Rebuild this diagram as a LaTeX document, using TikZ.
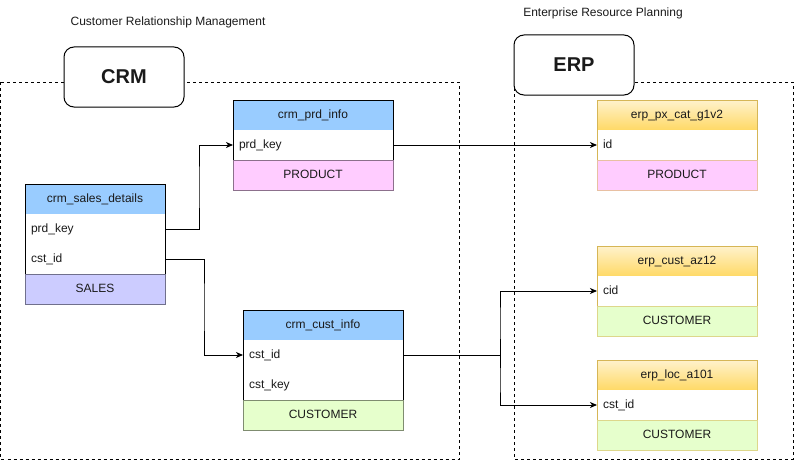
\documentclass[tikz,border=0pt]{standalone}
\usepackage{fontspec}
\setmainfont{Liberation Sans}
\usetikzlibrary{arrows.meta, positioning, calc}
\definecolor{crmblue}{HTML}{99CCFF}
\definecolor{salesfill}{HTML}{CCCCFF}
\definecolor{prodfill}{HTML}{FFCCFF}
\definecolor{custfill}{HTML}{E6FFCC}
\definecolor{erpline}{HTML}{D6B656}
\definecolor{erptop}{HTML}{FFF2CC}
\definecolor{erpbottom}{HTML}{FFD966}
\definecolor{ink}{HTML}{1A1A1A}

\begin{document}
\begin{tikzpicture}[x=1pt, y=-1pt, line width=1pt, text=ink,
    font=\fontsize{12}{14}\selectfont,
    cell/.style={rectangle, inner xsep=6pt, inner ysep=0pt, outer sep=0pt, text width=148pt,
      minimum height=30pt, text height=8.6pt, text depth=2.4pt},
    head/.style={cell, draw, align=center},
    crmhead/.style={head, fill=crmblue},
    erphead/.style={head, draw=erpline, top color=erptop, bottom color=erpbottom},
    field/.style={cell, align=left, fill=white},
    foot/.style={cell, align=center, fill=#1, draw=#1!55!black},
    erpfoot/.style={cell, align=center, fill=#1, draw=#1!45!erpline},
    narrow/.style={text width=128pt},
    group/.style={draw, rounded corners=10pt, fill=white, minimum width=120pt,
      minimum height=60pt, font=\fontsize{20}{24}\selectfont\bfseries},
    frame/.style={draw, dash pattern=on 3pt off 3pt},
    link/.style={-{Stealth[length=7pt, width=6pt, inset=2pt]}},
    elbow/.style={to path={(\tikztostart) -| ($(\tikztostart)!.5!(\tikztotarget)$)
      |- (\tikztotarget) \tikztonodes}}]
  \useasboundingbox (0,0) rectangle (795,460);

  % cadres
  \draw[frame] (0.5,82) rectangle (459,459);
  \draw[frame] (514,82) rectangle (793,459);
  \node (crm) at (124,77) [group] {CRM};
  \node (erp) at (574,65) [group] {ERP};
  \node (crmtitle) at (168,22) {Customer Relationship Management};
  \node (erptitle) at (603,13) {Enterprise Resource Planning};

  % tables CRM
  \node (sales) at (95,199) [crmhead, narrow] {crm\_sales\_details};
  \node (sprd) [field, narrow, below=0pt of sales] {prd\_key};
  \node (scst) [field, narrow, below=0pt of sprd] {cst\_id};
  \node (sfoot) [foot=salesfill, narrow, below=0pt of scst] {SALES};
  \draw (sales.south west) -- (sfoot.north west) (sales.south east) -- (sfoot.north east);

  \node (prd) at (313,115) [crmhead] {crm\_prd\_info};
  \node (pkey) [field, below=0pt of prd] {prd\_key};
  \node (pfoot) [foot=prodfill, below=0pt of pkey] {PRODUCT};
  \draw (prd.south west) -- (pfoot.north west) (prd.south east) -- (pfoot.north east);

  \node (cust) at (323,325) [crmhead] {crm\_cust\_info};
  \node (cid) [field, below=0pt of cust] {cst\_id};
  \node (ckey) [field, below=0pt of cid] {cst\_key};
  \node (cfoot) [foot=custfill, below=0pt of ckey] {CUSTOMER};
  \draw (cust.south west) -- (cfoot.north west) (cust.south east) -- (cfoot.north east);

  % tables ERP
  \node (pxcat) at (677,115) [erphead] {erp\_px\_cat\_g1v2};
  \node (pxid) [field, below=0pt of pxcat] {id};
  \node (pxfoot) [erpfoot=prodfill, below=0pt of pxid] {PRODUCT};
  \draw[erpline] (pxcat.south west) -- (pxfoot.north west) (pxcat.south east) -- (pxfoot.north east);

  \node (az) at (677,261) [erphead] {erp\_cust\_az12};
  \node (azid) [field, below=0pt of az] {cid};
  \node (azfoot) [erpfoot=custfill, below=0pt of azid] {CUSTOMER};
  \draw[erpline] (az.south west) -- (azfoot.north west) (az.south east) -- (azfoot.north east);

  \node (loc) at (677,375) [erphead] {erp\_loc\_a101};
  \node (locid) [field, below=0pt of loc] {cst\_id};
  \node (locfoot) [erpfoot=custfill, below=0pt of locid] {CUSTOMER};
  \draw[erpline] (loc.south west) -- (locfoot.north west) (loc.south east) -- (locfoot.north east);

  % liens
  \draw[link] (sprd.east) to[elbow] (pkey.west);
  \draw[link] (scst.east) to[elbow] (cid.west);
  \draw[link] (pkey.east) -- (pxid.west);
  \draw[link] (cid.east) to[elbow] (azid.west);
  \draw[link] (cid.east) to[elbow] (locid.west);
\end{tikzpicture}
\end{document}
